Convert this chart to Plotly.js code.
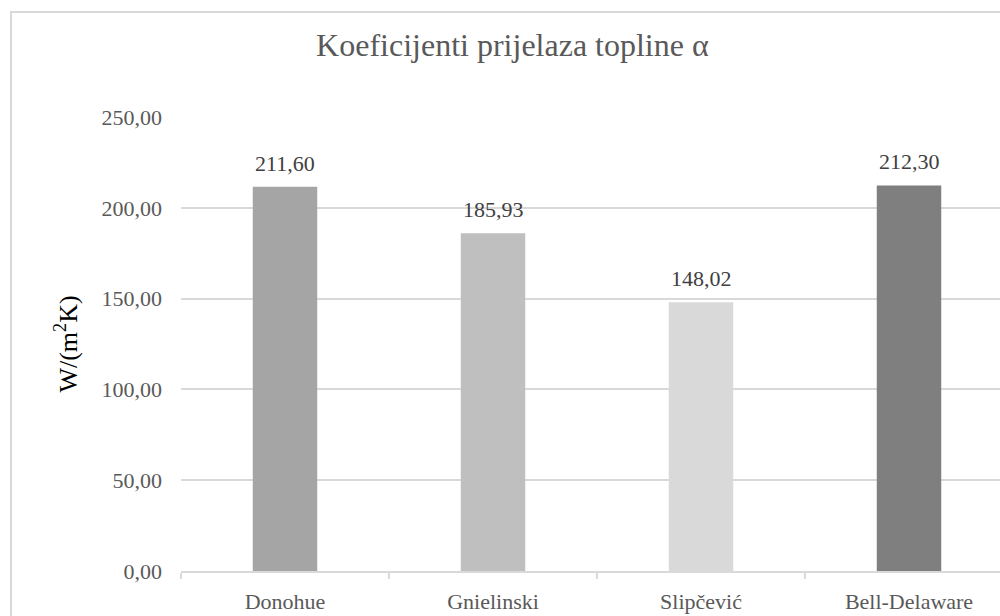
<!DOCTYPE html>
<html>
<head>
<meta charset="utf-8">
<script src="https://cdn.plot.ly/plotly-3.0.1.min.js"></script>
<style>
html,body{margin:0;padding:0;overflow:hidden;background:#fff;width:1000px;height:616px;}
#chart{position:absolute;left:0;top:0;width:1030px;height:640px;}
#frame{position:absolute;left:10px;top:11px;width:1010px;height:620px;border:2px solid #d9d9d9;pointer-events:none;}
</style>
</head>
<body>
<div id="chart"></div>
<div id="frame"></div>
<script>
const categories = ["Donohue", "Gnielinski", "Slipčević", "Bell-Delaware"];
const values = [211.60, 185.93, 148.02, 212.30];
const barColors = ["#a5a5a5", "#bfbfbf", "#d9d9d9", "#7f7f7f"];
const yTicks = [0, 50, 100, 150, 200, 250];
const titleText = "Koeficijenti prijelaza topline α";
const yTitle = "W/(m<sup>2</sup>K)";

const fmt = v => v.toFixed(2).replace(".", ",");
const font = "Liberation Serif, Times New Roman, serif";

const trace = {
  type: "bar",
  x: categories,
  y: values,
  marker: {color: barColors},
  hoverinfo: "none"
};

const annotations = categories.map((c, i) => ({
  x: c, y: values[i], xref: "x", yref: "y",
  text: fmt(values[i]), showarrow: false,
  yanchor: "bottom", yshift: 9,
  font: {family: font, size: 22, color: "#404040"}
}));

const layout = {
  width: 1030, height: 640,
  margin: {l: 181, r: 17, t: 117, b: 69},
  paper_bgcolor: "#fff", plot_bgcolor: "#fff",
  separators: ",.",
  showlegend: false,
  bargap: 0.69,
  title: {text: titleText, x: 0.4975, xanchor: "center", y: 0.93, yanchor: "middle",
          font: {family: font, size: 32, color: "#595959"}},
  xaxis: {
    type: "category",
    tickson: "boundaries",
    ticks: "outside", ticklen: 6, tickcolor: "#d9d9d9", tickwidth: 2,
    showline: true, linecolor: "#d9d9d9", linewidth: 2,
    showgrid: false,
    ticklabelstandoff: 10,
    tickfont: {family: font, size: 22, color: "#595959"}
  },
  yaxis: {
    range: [0, 250],
    tickvals: yTicks,
    ticktext: yTicks.map(fmt),
    showgrid: true, gridcolor: "#d9d9d9", gridwidth: 2,
    zeroline: false, showline: false, ticks: "",
    ticklabelstandoff: 18,
    tickfont: {family: font, size: 22, color: "#595959"},
    title: {text: yTitle, standoff: 16, font: {family: font, size: 26, color: "#000"}}
  },
  annotations: annotations
};

Plotly.newPlot("chart", [trace], layout, {displayModeBar: false, staticPlot: true});
</script>
</body>
</html>
